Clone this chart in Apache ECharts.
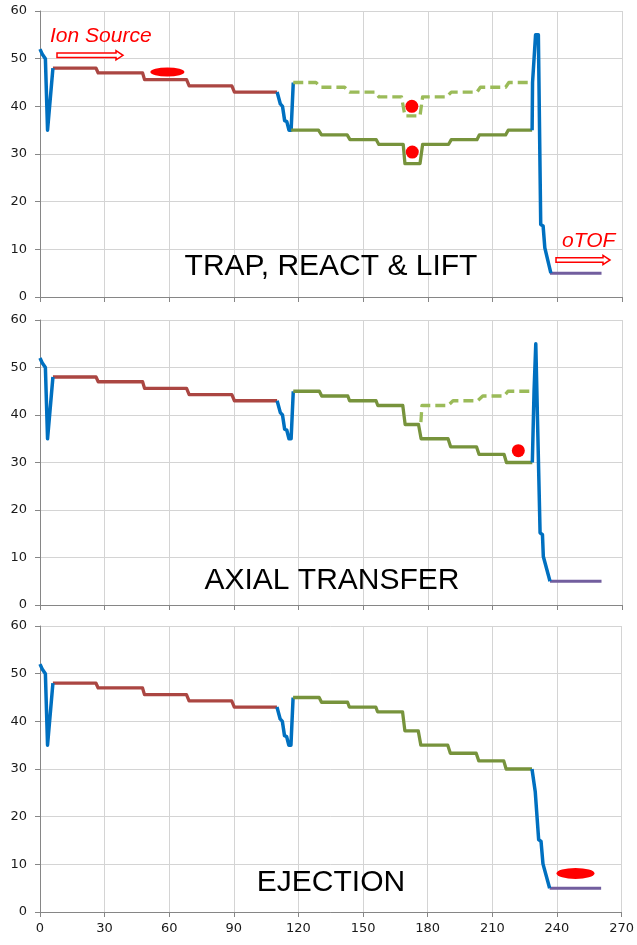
<!DOCTYPE html>
<html>
<head>
<meta charset="utf-8">
<script src="https://cdn.jsdelivr.net/npm/echarts@6/dist/echarts.min.js"></script>
<style>
  html, body { margin: 0; padding: 0; background: #fff; }
  #chart { width: 637px; height: 945px; }
</style>
</head>
<body>
<div id="chart"></div>
<script>
// shared x ticks / y ticks
var xTicks = [0, 30, 60, 90, 120, 150, 180, 210, 240, 270];
var yTicks = [0, 10, 20, 30, 40, 50, 60];
var panelTitles = ['TRAP, REACT & LIFT', 'AXIAL TRANSFER', 'EJECTION'];

// ion source part (same in all panels)
var entryBlue = [[0,52],[1,51],[2.5,50],[3.5,35],[4.3,35],[6,48]];
var sourceRed = [[6,48],[26,48],[27,47],[47.6,47],[48.5,45.6],[68,45.6],[69.2,44.3],[89,44.3],[90.2,43],[110,43]];
var dropBlue = [[110,43],[111.5,40.5],[112.5,40],[113.5,37],[114.5,36.8],[115.5,35],[116.5,35],[117.5,45]];

// trap panel
var trapSolid = [[116.5,35],[129.2,35],[130.6,34],[142.5,34],[143.8,33],[156,33],[157.2,32],[168.5,32],[169.3,28],[176.3,28],[177.5,32],[189.5,32],[190.8,33],[202.7,33],[203.8,34],[216,34],[217.2,35],[228.3,35]];
var trapDashed = [[117.5,45],[128,45],[130.4,44],[141.3,44],[143.6,43],[155.3,43],[157.2,42],[167.7,42],[169.3,38],[176.3,38],[177.5,42],[188.7,42],[190.8,43],[202.7,43],[204.3,44],[216,44],[217.5,45],[228.3,45]];
var trapExit = [[228.3,35],[228.5,45],[229.9,55],[231.2,55],[232.3,15.2],[233.4,14.9],[234.2,10.3],[235,10],[237,5]];
var trapDots = [[172.5,40],[172.7,30.4]];

// transfer panel
var transferSolid = [[117.5,45],[129.6,45],[130.7,44],[142.8,44],[143.6,43],[155.9,43],[156.7,42],[168.3,42],[169.4,38],[175.6,38],[176.8,35],[189.3,35],[190.5,33.3],[202.5,33.3],[203.7,31.7],[215.3,31.7],[216.4,30],[228.4,30]];
var transferDashed = [[176.7,38.5],[177.2,42],[189.3,42],[191.6,43],[203,43],[205.4,44],[215.3,44],[217.1,45],[228.4,45]];
var transferExit = [[228.4,30],[229.2,45],[230,55],[230.8,55],[232,15.2],[233.1,14.8],[233.5,10.2],[234.3,9.8],[236.6,5]];
var transferDots = [[221.9,32.5]];

// ejection panel
var ejectExit = [[228.4,30],[229.9,25.3],[230.7,25],[231.5,15.2],[232.6,14.8],[233.5,10.1],[234.3,9.7],[236.6,5]];
var tofPurple = [[236.6,5],[260.5,5]];

// red ellipse blobs
var sourceBlob = [[59.1,47.2]];
var ejectBlob = [[248.6,8.1]];

var BLUE = '#0070C0', BROWN = '#AB4642', OLIVE = '#77933C', LIGHT = '#9BBB59', PURPLE = '#725E9E';

var grids = [
  { left: 40, right: 15, top: 11, height: 286 },
  { left: 40, right: 15, top: 320, height: 285 },
  { left: 40, right: 15, top: 626, height: 286 }
];

var xAxes = [], yAxes = [];
grids.forEach(function (g, i) {
  xAxes.push({
    type: 'value', gridIndex: i, min: xTicks[0], max: xTicks[xTicks.length - 1], interval: 30,
    axisLine: { lineStyle: { color: '#868686' } },
    axisTick: { show: true, length: 5, lineStyle: { color: '#868686' } },
    axisLabel: { show: i === 2, margin: 10, color: '#1a1a1a', fontFamily: 'DejaVu Sans', fontSize: 13 },
    splitLine: { lineStyle: { color: '#D4D4D4' } }
  });
  yAxes.push({
    type: 'value', gridIndex: i, min: yTicks[0], max: yTicks[yTicks.length - 1], interval: 10,
    axisLine: { show: true, lineStyle: { color: '#868686' } },
    axisTick: { show: true, length: 5, lineStyle: { color: '#868686' } },
    axisLabel: { margin: 13, color: '#1a1a1a', fontFamily: 'DejaVu Sans', fontSize: 13 },
    splitLine: { lineStyle: { color: '#D4D4D4' } }
  });
});

function line(data, panel, color, dashed, width) {
  return {
    type: 'line', xAxisIndex: panel, yAxisIndex: panel, data: data, symbol: 'none',
    lineStyle: { color: color, width: width || 3, type: dashed ? [10, 5] : 'solid', join: 'round' },
    silent: true
  };
}
function dots(data, panel, size) {
  return {
    type: 'scatter', xAxisIndex: panel, yAxisIndex: panel, data: data,
    symbol: 'circle', symbolSize: size, itemStyle: { color: '#FF0000', opacity: 1 }, z: 5
  };
}

var series = [];
for (var p = 0; p < 3; p++) {
  series.push(line(sourceRed, p, BROWN, false, 3.3));
  series.push(line(entryBlue, p, BLUE, false, 3.5));
  series.push(line(dropBlue, p, BLUE, false, 3.5));
  series.push(line(tofPurple, p, PURPLE));
}
series.push(line(trapSolid, 0, OLIVE, false, 3.3));
series.push(line(trapDashed, 0, LIGHT, true, 3.3));
series.push(line(trapExit, 0, BLUE, false, 3.5));
series.push(dots(trapDots, 0, 13));
series.push(dots(sourceBlob, 0, [34, 9]));

series.push(line(transferSolid, 1, OLIVE, false, 3.3));
series.push(line(transferDashed, 1, LIGHT, true, 3.3));
series.push(line(transferExit, 1, BLUE, false, 3.5));
series.push(dots(transferDots, 1, 13));

series.push(line(transferSolid, 2, OLIVE, false, 3.3));
series.push(line(ejectExit, 2, BLUE, false, 3.5));
series.push(dots(ejectBlob, 2, [38, 11]));

function title(text, cx, cy) {
  return {
    type: 'text', x: cx, y: cy, z: 10,
    style: { text: text, fill: '#000', font: '30px "Liberation Sans", Arial, sans-serif', align: 'center', verticalAlign: 'middle' }
  };
}
function note(text, x, y) {
  return {
    type: 'text', x: x, y: y, z: 10,
    style: { text: text, fill: '#FF0000', font: 'italic 21px "Liberation Sans", Arial, sans-serif', align: 'left', verticalAlign: 'middle' }
  };
}
function arrow(x0, x1, cy) {
  var h = 2.2, head = 4.6, hl = 7;
  return {
    type: 'polygon', z: 10,
    shape: { points: [[x0, cy - h], [x1 - hl, cy - h], [x1 - hl, cy - head], [x1, cy], [x1 - hl, cy + head], [x1 - hl, cy + h], [x0, cy + h]] },
    style: { fill: '#fff', stroke: '#FF0000', lineWidth: 1.5 }
  };
}

var chart = echarts.init(document.getElementById('chart'));
chart.setOption({
  animation: false,
  backgroundColor: '#fff',
  grid: grids,
  xAxis: xAxes,
  yAxis: yAxes,
  series: series,
  graphic: [
    title(panelTitles[0], 331, 267),
    title(panelTitles[1], 332, 581),
    title(panelTitles[2], 331, 883),
    note('Ion Source', 50, 36),
    arrow(57, 123, 55.3),
    note('oTOF', 562, 241),
    arrow(556, 610, 260)
  ]
});
</script>
</body>
</html>
